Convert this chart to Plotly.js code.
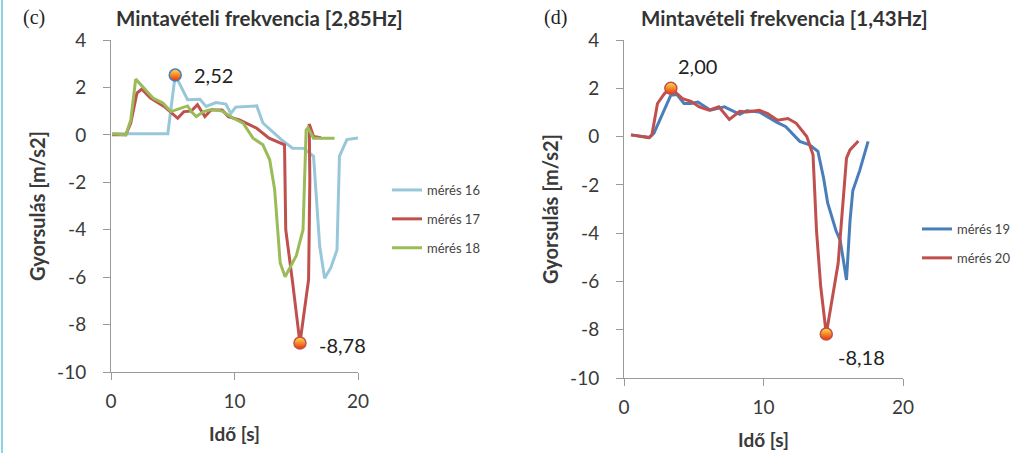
<!DOCTYPE html>
<html>
<head>
<meta charset="utf-8">
<script src="https://cdn.plot.ly/plotly-3.0.1.min.js"></script>
<style>
html,body{margin:0;padding:0;background:#fff;}
#chart{width:1030px;height:453px;}
</style>
</head>
<body>
<div id="chart"></div>
<script>
// ---- Panel (c): 2,85 Hz ----
const t16 = [0.1, 1.0, 2.0, 3.0, 4.0, 4.6, 5.2, 6.2, 7.2, 7.7, 8.5, 9.3, 9.7, 10.1, 11.8, 12.3, 13.8, 14.7, 15.6, 16.4, 16.9, 17.3, 17.8, 18.3, 18.5, 19.1, 20.0];
const a16 = [0.05, 0.05, 0.05, 0.05, 0.05, 0.05, 2.52, 1.48, 1.5, 1.2, 1.36, 1.3, 0.9, 1.17, 1.22, 0.5, -0.2, -0.56, -0.57, -0.9, -4.7, -6.05, -5.6, -4.85, -0.9, -0.2, -0.13];

const t17 = [0.1, 1.2, 1.6, 2.1, 2.5, 3.2, 4.3, 5.4, 5.9, 6.5, 7.0, 7.6, 8.1, 9.0, 9.5, 10.4, 11.8, 12.8, 14.05, 14.15, 14.7, 15.3, 16.0, 16.1, 16.05, 16.4, 17.0];
const a17 = [0.0, 0.0, 0.5, 1.76, 1.93, 1.55, 1.2, 0.7, 0.98, 1.0, 1.27, 0.77, 1.05, 1.05, 0.77, 0.63, 0.28, -0.14, -0.42, -4.0, -6.2, -8.78, -6.1, -1.9, 0.46, -0.07, -0.12];

const t18 = [0.1, 1.2, 1.6, 2.0, 3.4, 4.2, 4.85, 5.5, 6.2, 6.5, 6.9, 7.5, 8.2, 9.0, 9.9, 10.7, 11.5, 12.3, 12.85, 13.25, 13.7, 14.1, 15.0, 15.55, 15.8, 15.95, 16.4, 18.1];
const a18 = [0.05, 0.0, 0.63, 2.35, 1.55, 1.34, 0.98, 1.08, 1.22, 0.98, 0.77, 0.98, 1.08, 1.0, 0.7, 0.49, -0.14, -0.42, -1.05, -2.3, -5.4, -5.98, -5.1, -4.0, 0.2, 0.3, -0.14, -0.14];

// ---- Panel (d): 1,43 Hz ----
const t19 = [0.5, 1.8, 2.15, 2.75, 3.35, 3.8, 4.3, 4.8, 5.3, 6.2, 7.2, 8.3, 8.8, 9.7, 10.9, 11.6, 12.6, 13.3, 13.9, 14.3, 14.6, 15.2, 15.5, 15.95, 16.2, 16.4, 16.9, 17.5];
const a19 = [0.07, -0.04, 0.14, 0.95, 1.71, 1.74, 1.37, 1.37, 1.43, 1.09, 1.23, 0.92, 1.07, 1.02, 0.61, 0.41, -0.2, -0.34, -0.61, -1.7, -2.75, -3.9, -4.3, -5.94, -3.5, -2.25, -1.4, -0.2];

const t20 = [0.5, 1.8, 2.0, 2.4, 2.9, 3.36, 4.2, 4.8, 5.4, 6.1, 6.8, 7.55, 8.3, 8.8, 9.7, 10.3, 11.0, 11.75, 12.35, 13.1, 13.55, 13.8, 14.1, 14.5, 15.35, 15.95, 16.2, 16.8];
const a20 = [0.07, -0.04, 0.07, 1.37, 1.78, 2.0, 1.57, 1.46, 1.23, 1.09, 1.23, 0.71, 1.05, 1.02, 1.09, 0.95, 0.68, 0.75, 0.55, 0.0, -0.75, -3.9, -6.2, -8.18, -5.26, -0.89, -0.55, -0.18];

const names = ['mérés 16', 'mérés 17', 'mérés 18', 'mérés 19', 'mérés 20'];
const colors = ['#98C7D9', '#C0504D', '#9BBB59', '#4A7EBB', '#C0504D'];
const xTicks = [0, 10, 20];
const yTicks = [4, 2, 0, -2, -4, -6, -8, -10];

function fmt(v){ return v.toFixed(2).replace('.', ','); }
function idxMax(a){ let k=0; a.forEach((v,i)=>{ if(v>a[k]) k=i; }); return k; }
function idxMin(a){ let k=0; a.forEach((v,i)=>{ if(v<a[k]) k=i; }); return k; }

const FONT = 'Lato, "Open Sans", sans-serif';
const lineTrace = (x, y, i, xa, ya, lg, grp) => ({
  x, y, name: names[i], type: 'scatter', mode: 'lines',
  line: {color: colors[i], width: 3, shape: 'linear'},
  xaxis: xa, yaxis: ya, legend: lg, legendgroup: grp, hoverinfo: 'x+y+name'
});
const markTrace = (x, y, edge, xa, ya) => ({
  x: [x], y: [y], type: 'scatter', mode: 'markers', showlegend: false,
  marker: {size: 12, color: '#FFE14A', gradient: {type: 'vertical', color: '#E8300A'}, line: {color: edge, width: 1.5}},
  xaxis: xa, yaxis: ya, hoverinfo: 'x+y'
});

const k16 = idxMax(a16), k17 = idxMin(a17), k20max = idxMax(a20), k20min = idxMin(a20);

const data = [
  lineTrace(t16, a16, 0, 'x', 'y', 'legend', 'g16'),
  lineTrace(t17, a17, 1, 'x', 'y', 'legend', 'g17'),
  lineTrace(t18, a18, 2, 'x', 'y', 'legend', 'g18'),
  markTrace(t16[k16], a16[k16], '#4A7EBB', 'x', 'y'),
  markTrace(t17[k17], a17[k17], '#C0504D', 'x', 'y'),
  lineTrace(t19, a19, 3, 'x2', 'y2', 'legend2', 'g19'),
  lineTrace(t20, a20, 4, 'x2', 'y2', 'legend2', 'g20'),
  markTrace(t20[k20max], a20[k20max], '#C0504D', 'x2', 'y2'),
  markTrace(t20[k20min], a20[k20min], '#C0504D', 'x2', 'y2')
];

const axisBase = {
  showgrid: false, zeroline: false, showline: true, linecolor: '#9a9a9a', linewidth: 1,
  ticks: 'outside', ticklen: 7, tickcolor: '#9a9a9a', tickwidth: 1,
  tickfont: {family: FONT, size: 19, color: '#3a3a3a'}, fixedrange: true
};
const xAxis = (dom, anchor) => Object.assign({}, axisBase, {
  domain: dom, range: [0, 20], tickvals: xTicks, ticktext: xTicks.map(String), anchor,
  ticklabelstandoff: 5,
  title: {text: '<b>Idő [s]</b>', font: {family: FONT, size: 19, color: '#3a3a3a'}, standoff: 16}
});
const yAxis = (dom, anchor) => Object.assign({}, axisBase, {
  domain: dom, range: [-10, 4], tickvals: yTicks, ticktext: yTicks.map(String), anchor,
  ticklabelstandoff: 13,
  title: {text: '<b>Gyorsulás [m/s2]</b>', font: {family: FONT, size: 20, color: '#3a3a3a'}, standoff: 6}
});

const W = 1030, H = 453;
const px = v => v / W, py = v => 1 - v / H;

const annFont = {family: FONT, size: 20, color: '#222'};
const legFont = {family: FONT, size: 13, color: '#444'};
const layout = {
  width: W, height: H, margin: {l: 0, r: 0, t: 0, b: 0},
  paper_bgcolor: '#fff', plot_bgcolor: '#fff',
  showlegend: true,
  xaxis: xAxis([px(111), px(358)], 'y'),
  yaxis: yAxis([py(372), py(40)], 'x'),
  xaxis2: xAxis([px(624), px(903)], 'y2'),
  yaxis2: yAxis([py(378), py(40)], 'x2'),
  legend: {x: px(387), y: py(175), xanchor: 'left', yanchor: 'top', bgcolor: 'rgba(0,0,0,0)',
    font: legFont, traceorder: 'grouped', tracegroupgap: 9, itemwidth: 30},
  legend2: {x: px(917), y: py(214), xanchor: 'left', yanchor: 'top', bgcolor: 'rgba(0,0,0,0)',
    font: legFont, traceorder: 'grouped', tracegroupgap: 9, itemwidth: 30},
  annotations: [
    {text: '<b>Mintavételi frekvencia [2,85Hz]</b>', xref: 'paper', yref: 'paper', x: px(114), y: py(18),
      xanchor: 'left', yanchor: 'middle', showarrow: false, font: {family: FONT, size: 20.5, color: '#333'}},
    {text: '<b>Mintavételi frekvencia [1,43Hz]</b>', xref: 'paper', yref: 'paper', x: px(639), y: py(18),
      xanchor: 'left', yanchor: 'middle', showarrow: false, font: {family: FONT, size: 20.5, color: '#333'}},
    {text: '(c)', xref: 'paper', yref: 'paper', x: px(21), y: py(18), xanchor: 'left', yanchor: 'middle',
      showarrow: false, font: {family: '"Liberation Serif", "DejaVu Serif", serif', size: 20, color: '#222'}},
    {text: '(d)', xref: 'paper', yref: 'paper', x: px(542), y: py(18), xanchor: 'left', yanchor: 'middle',
      showarrow: false, font: {family: '"Liberation Serif", "DejaVu Serif", serif', size: 20, color: '#222'}},
    {text: fmt(a16[k16]), xref: 'x', yref: 'y', x: t16[k16], y: a16[k16], xanchor: 'left', yanchor: 'middle',
      xshift: 17, showarrow: false, font: annFont},
    {text: fmt(a17[k17]), xref: 'x', yref: 'y', x: t17[k17], y: a17[k17], xanchor: 'left', yanchor: 'middle',
      xshift: 17, yshift: -2, showarrow: false, font: annFont},
    {text: fmt(a20[k20max]), xref: 'x2', yref: 'y2', x: t20[k20max], y: a20[k20max], xanchor: 'center', yanchor: 'middle',
      xshift: 27, yshift: 22, showarrow: false, font: annFont},
    {text: fmt(a20[k20min]), xref: 'x2', yref: 'y2', x: t20[k20min], y: a20[k20min], xanchor: 'center', yanchor: 'middle',
      xshift: 35, yshift: -23, showarrow: false, font: annFont}
  ],
  shapes: [
    {type: 'line', xref: 'paper', yref: 'paper', x0: px(2), x1: px(2), y0: 0, y1: 1, line: {color: '#8FD3E3', width: 2}}
  ]
};

Plotly.newPlot('chart', data, layout, {displayModeBar: false, staticPlot: false});
</script>
</body>
</html>
